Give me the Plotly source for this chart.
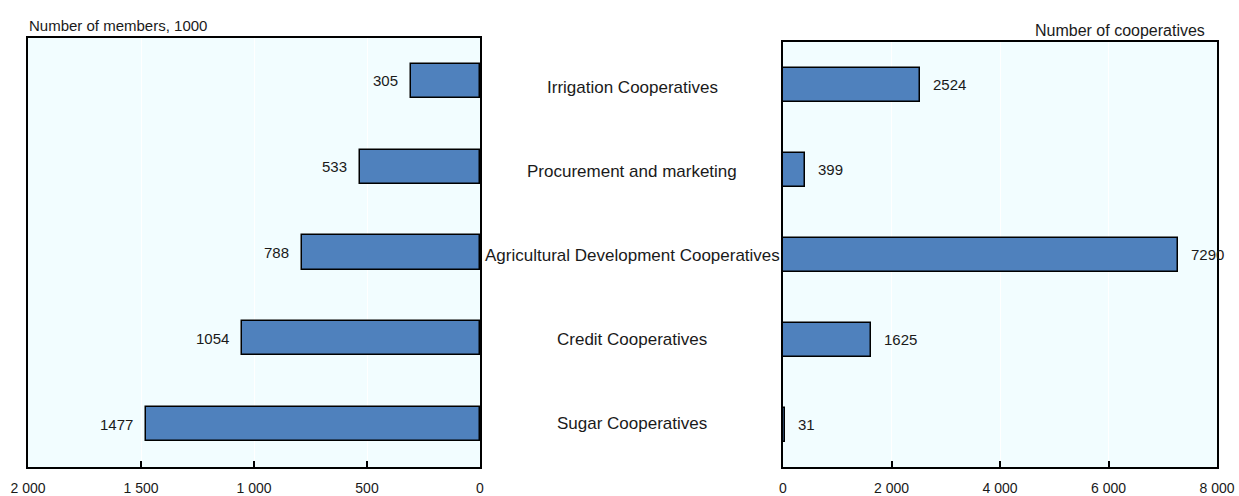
import plotly.graph_objects as go

categories = ["Irrigation Cooperatives", "Procurement and marketing",
              "Agricultural Development Cooperatives", "Credit Cooperatives",
              "Sugar Cooperatives"]
members = [305, 533, 788, 1054, 1477]
coops = [2524, 399, 7290, 1625, 31]
left_ticks = [2000, 1500, 1000, 500, 0]
right_ticks = [0, 2000, 4000, 6000, 8000]

W, H = 1239, 496
FONT = "Liberation Sans, Arial, sans-serif"
TXT = "#1a1a1a"
BAR = "#4F81BD"
BG = "#F2FDFF"

ypos = list(range(len(categories)))

fig = go.Figure()
fig.add_trace(go.Bar(y=ypos, x=members, orientation="h", width=0.4,
                     marker=dict(color=BAR, line=dict(color="black", width=1.5)),
                     xaxis="x", yaxis="y", hoverinfo="skip", showlegend=False))
fig.add_trace(go.Bar(y=ypos, x=coops, orientation="h", width=0.4,
                     marker=dict(color=BAR, line=dict(color="black", width=1.5)),
                     xaxis="x2", yaxis="y2", hoverinfo="skip", showlegend=False))

def px(v):
    return v / W

def py(v):
    return 1 - v / H

axis_common = dict(showline=True, linecolor="black", linewidth=1.5, mirror=True,
                   showgrid=True, gridcolor="white", gridwidth=1, zeroline=False,
                   ticks="inside", ticklen=6, tickcolor="black", tickwidth=1.5,
                   tickfont=dict(family=FONT, size=14, color=TXT),
                   separatethousands=True, automargin=False,
                   ticklabelstandoff=7, fixedrange=True)

yaxis_common = dict(range=[4.5, -0.5], showticklabels=False, automargin=False,
                    showline=True, linecolor="black", linewidth=1.5, mirror=True,
                    showgrid=False, zeroline=False, ticks="", fixedrange=True)

fig.update_layout(
    width=W, height=H, margin=dict(l=0, r=0, t=0, b=0, autoexpand=False),
    paper_bgcolor="white", plot_bgcolor=BG, separators=". ",
    bargap=0,
    xaxis=dict(domain=[px(28), px(480)], range=[2000, 0], tickvals=left_ticks,
               anchor="y", **axis_common),
    yaxis=dict(domain=[py(467), py(38)], anchor="x", **yaxis_common),
    xaxis2=dict(domain=[px(783), px(1217)], range=[0, 8000], tickvals=right_ticks,
                anchor="y2", **axis_common),
    yaxis2=dict(domain=[py(467), py(42)], anchor="x2", **yaxis_common),
)

# centre column of category labels: rows spaced evenly between y=46 and y=465 px
LABEL_TOP, LABEL_BOTTOM = 46, 465
row_h = (LABEL_BOTTOM - LABEL_TOP) / len(categories)

ann = []
for i, (c, m, n) in enumerate(zip(categories, members, coops)):
    ann.append(dict(x=px(632), y=py(LABEL_TOP + (i + 0.5) * row_h),
                    xref="paper", yref="paper", text=c, showarrow=False,
                    xanchor="center", yanchor="middle",
                    font=dict(family=FONT, size=17, color=TXT)))
    ann.append(dict(x=m, y=i, xref="x", yref="y", text=str(m), showarrow=False,
                    xanchor="right", yanchor="middle", xshift=-11,
                    font=dict(family=FONT, size=15, color=TXT)))
    ann.append(dict(x=n, y=i, xref="x2", yref="y2", text=str(n), showarrow=False,
                    xanchor="left", yanchor="middle", xshift=11,
                    font=dict(family=FONT, size=15, color=TXT)))

ann.append(dict(x=px(27), y=py(26), xref="paper", yref="paper",
                text="Number of members, 1000", showarrow=False,
                xanchor="left", yanchor="middle",
                font=dict(family=FONT, size=15, color=TXT)))
ann.append(dict(x=px(1207), y=py(30), xref="paper", yref="paper",
                text="Number of cooperatives", showarrow=False,
                xanchor="right", yanchor="middle",
                font=dict(family=FONT, size=16, color=TXT)))
fig.update_layout(annotations=ann)

fig.write_html("out.html", config={"displayModeBar": False},
               post_script="document.body.style.margin='0';"
                           "document.body.style.overflow='hidden';")
